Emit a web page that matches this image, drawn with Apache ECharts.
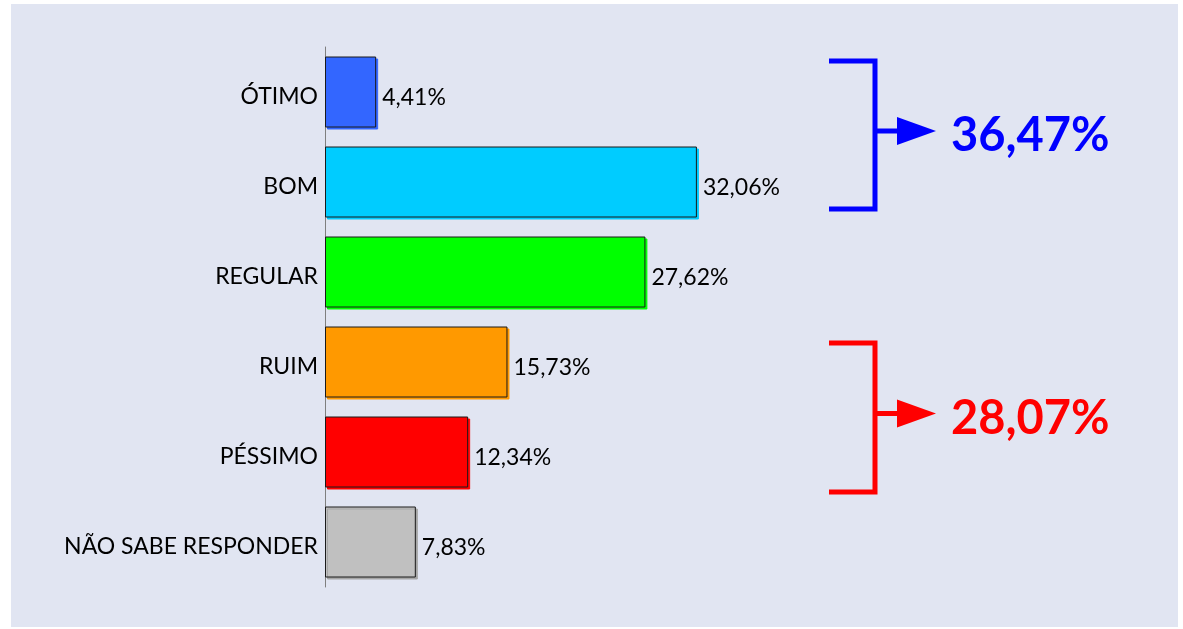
<!DOCTYPE html>
<html>
<head>
<meta charset="utf-8">
<script src="https://cdn.jsdelivr.net/npm/echarts@6/dist/echarts.min.js"></script>
<style>
html,body{margin:0;padding:0;background:#fff;}
#c{width:1183px;height:629px;}
</style>
</head>
<body>
<div id="c"></div>
<script>
// ---- data ----
const categories = ['ÓTIMO', 'BOM', 'REGULAR', 'RUIM', 'PÉSSIMO', 'NÃO SABE RESPONDER'];
const values = [4.41, 32.06, 27.62, 15.73, 12.34, 7.83];
const barColors = ['#3366FF', '#00CCFF', '#00FF00', '#FF9900', '#FF0000', '#C0C0C0'];
const shadowColors = ['#3366FF', '#00CCFF', '#00FF00', '#FF9900', '#FF0000', '#A6A6A6'];
const groupPositive = [0, 1];   // ÓTIMO + BOM
const groupNegative = [3, 4];   // RUIM + PÉSSIMO

const fmt = v => v.toFixed(2).replace('.', ',') + '%';
const sumOf = idx => idx.reduce((s, i) => s + values[i], 0);

const chart = echarts.init(document.getElementById('c'), null, {renderer: 'canvas'});
const FONT = 'Lato, "Open Sans", sans-serif';

const option = {
  backgroundColor: '#ffffff',
  animation: false,
  grid: {left: 325, right: 394, top: 47, bottom: 42, containLabel: false},
  xAxis: {
    type: 'value', min: 0, max: 40, show: false
  },
  yAxis: {
    type: 'category', data: categories, inverse: true,
    axisLine: {show: true, lineStyle: {color: '#7f7f7f', width: 1}},
    axisTick: {show: false},
    axisLabel: {color: '#000', fontSize: 23, fontFamily: FONT, margin: 7,
                verticalAlign: 'top', lineHeight: 10}
  },
  series: [{
    type: 'bar',
    barWidth: 71,
    data: values.map((v, i) => ({
      value: v,
      itemStyle: {
        color: barColors[i], borderColor: '#1a1a1a', borderWidth: 1,
        shadowColor: shadowColors[i], shadowOffsetX: 2, shadowOffsetY: 2, shadowBlur: 0
      }
    })),
    label: {
      show: true, position: 'right', distance: 6, offset: [0, 6],
      color: '#000', fontSize: 23, fontFamily: FONT,
      formatter: p => fmt(p.value)
    }
  }]
};
chart.setOption(option);

function bracket(color, top, bottom, text) {
  const xL = 829, xV = 875, lw = 5;
  const mid = (top + bottom) / 2;
  return [
    {type: 'polyline', shape: {points: [[xL, top], [xV, top], [xV, bottom], [xL, bottom]]},
     style: {stroke: color, lineWidth: lw, fill: null, lineJoin: 'miter'}, z: 10},
    {type: 'line', shape: {x1: xV, y1: mid - 4, x2: 898, y2: mid - 4},
     style: {stroke: color, lineWidth: lw}, z: 10},
    {type: 'polygon', shape: {points: [[897, mid - 18], [936, mid - 4], [897, mid + 10]]},
     style: {fill: color}, z: 10},
    {type: 'text', x: 951, y: mid + 1, z: 10,
     style: {text: text, fill: color, font: 'bold 47px ' + FONT, verticalAlign: 'middle', align: 'left'}}
  ];
}

chart.setOption({
  graphic: [
    {type: 'rect', shape: {x: 11, y: 4, width: 1167, height: 623}, style: {fill: '#E1E5F2'}, z: -10, silent: true},
    ...bracket('#0000FF', 61, 209, fmt(sumOf(groupPositive))),
    ...bracket('#FF0000', 343, 492, fmt(sumOf(groupNegative)))
  ]
});
</script>
</body>
</html>
